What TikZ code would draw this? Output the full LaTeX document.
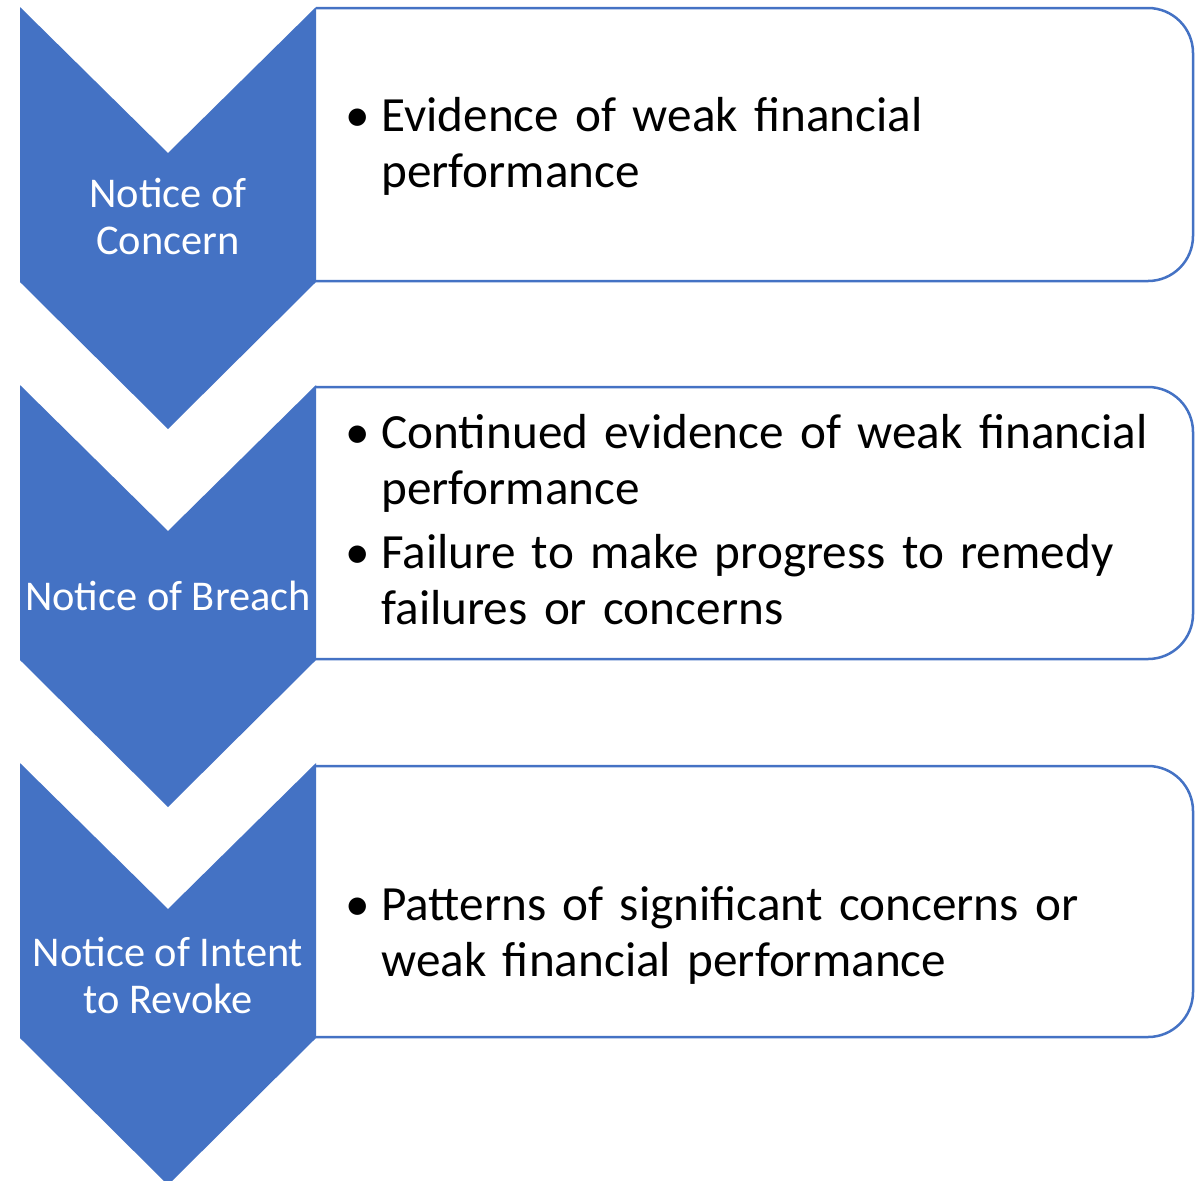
\documentclass[tikz,border=0pt]{standalone}
\usepackage{fontspec}
\setmainfont{Carlito}
\usetikzlibrary{positioning}
\definecolor{stageblue}{HTML}{4472C4}
\newcommand{\bpoint}[1]{\par\noindent\hangindent=18pt\hangafter=1%
    \makebox[18pt][l]{\textbullet}#1\par}

\begin{document}
\begin{tikzpicture}[x=0.5pt,y=-0.5pt,
            chev/.style = {fill=stageblue},
            box/.style = {draw=stageblue,line width=1.25pt,fill=white,
                rounded corners=22.5pt},
            stage/.style = {text=white,align=center,inner sep=0pt,
                font=\fontsize{21.2}{23.5}\selectfont},
            points/.style = {anchor=north west,inner sep=0pt,text width=420pt,
                align=left,font=\fontsize{24.6}{28}\selectfont}]
            \useasboundingbox (0,0) rectangle (1200,1180);
            % first stage
            \draw[box] (316,8) -- (1193,8) -- (1193,281) -- (316,281);
            \fill[chev] (20,7) -- (168,153) -- (316,7) -- (316,282)
                -- (168,429) -- (20,282) -- cycle;
            \node[stage] (s1) at (168,216) {Notice of\\ Concern};
            \node[points] (p1) at (345,75) {
                \bpoint{Evidence of weak financial\newline performance}
            };
            % second stage
            \draw[box] (316,387) -- (1193,387) -- (1193,659) -- (316,659);
            \fill[chev] (20,385) -- (168,531) -- (316,385) -- (316,660)
                -- (168,807) -- (20,660) -- cycle;
            \node[stage] (s2) at (168,596) {Notice of Breach};
            \node[points] (p2) at (345,392) {
                \bpoint{Continued evidence of weak financial\newline performance}
                \vspace{4pt}
                \bpoint{Failure to make progress to remedy\newline failures or concerns}
            };
            % third stage
            \draw[box] (316,766) -- (1193,766) -- (1193,1037) -- (316,1037);
            \fill[chev] (20,763) -- (168,909) -- (316,763) -- (316,1038)
                -- (168,1185) -- (20,1038) -- cycle;
            \node[stage] (s3) at (168,975) {Notice of Intent\\ to Revoke};
            \node[points] (p3) at (345,864) {
                \bpoint{Patterns of significant concerns or\newline weak financial performance}
            };
        \end{tikzpicture}
\end{document}
